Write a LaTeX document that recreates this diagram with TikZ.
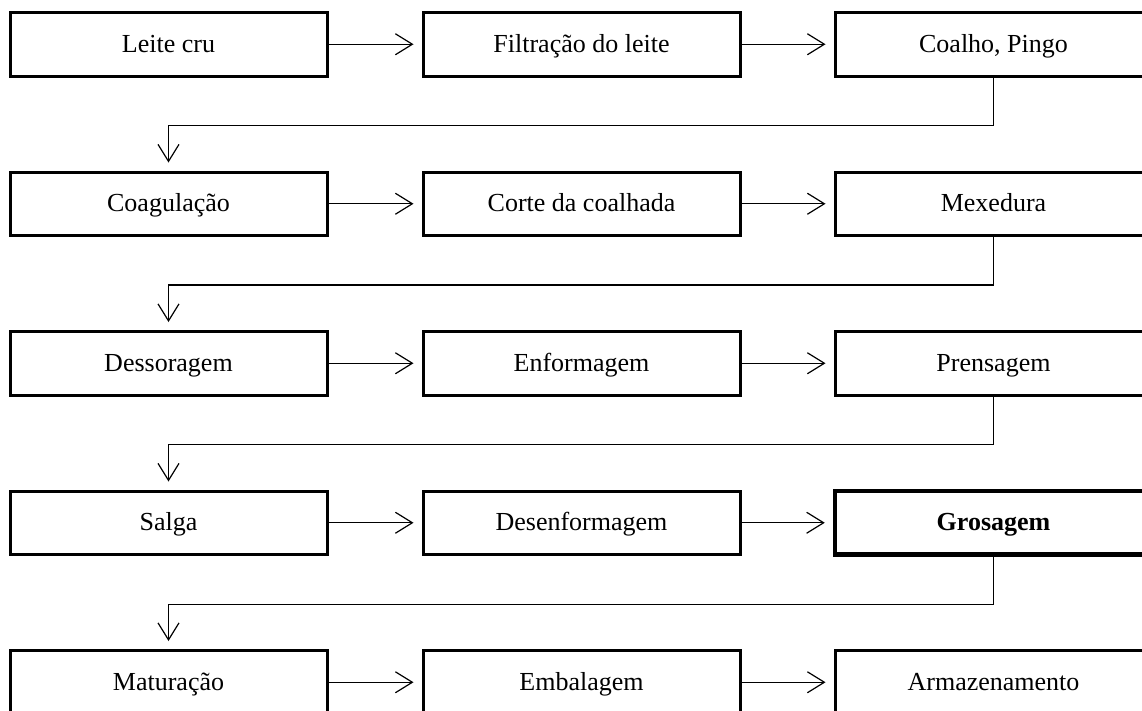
\documentclass[tikz,border=0pt]{standalone}
\usepackage{fontspec}
\setmainfont{Liberation Serif}
\usetikzlibrary{arrows.meta}
\begin{document}
\begin{tikzpicture}[x=1pt,y=-1pt,
  stepbox/.style={draw,line width=3pt,minimum width=317pt,minimum height=63.5pt,inner sep=0pt,
    text height=20pt,text depth=4pt,font=\fontsize{26}{30}\selectfont},
  boldbox/.style={stepbox,line width=4.5pt,font=\fontsize{26}{30}\selectfont\bfseries},
  flow/.style={line width=1.2pt,-{Straight Barb[length=17pt,width=21pt,line width=1.2pt]}}]
\useasboundingbox (0,0) rectangle (1142,710);
\clip (0,0) rectangle (1142,710);
% rows
\node[stepbox] (a1) at (168.5,44.25) {Leite cru};
\node[stepbox] (a2) at (581.5,44.25) {Filtração do leite};
\node[stepbox] (a3) at (993.5,44.25) {Coalho, Pingo};
\node[stepbox] (b1) at (168.5,203.75) {Coagulação};
\node[stepbox] (b2) at (581.5,203.75) {Corte da coalhada};
\node[stepbox] (b3) at (993.5,203.75) {Mexedura};
\node[stepbox] (c1) at (168.5,363.25) {Dessoragem};
\node[stepbox] (c2) at (581.5,363.25) {Enformagem};
\node[stepbox] (c3) at (993.5,363.25) {Prensagem};
\node[stepbox] (d1) at (168.5,522.75) {Salga};
\node[stepbox] (d2) at (581.5,522.75) {Desenformagem};
\node[boldbox] (d3) at (993.5,522.75) {Grosagem};
\node[stepbox] (e1) at (168.5,682.25) {Maturação};
\node[stepbox] (e2) at (581.5,682.25) {Embalagem};
\node[stepbox] (e3) at (993.5,682.25) {Armazenamento};
% horizontal connectors
\foreach \r in {a,b,c,d,e}{
  \draw[flow] (\r1.east) -- ([xshift=-8pt]\r2.west);
  \draw[flow] (\r2.east) -- ([xshift=-8pt]\r3.west);
}
% row-to-row connectors
\draw[flow] (a3.south) -- ++(0,48) -| ([yshift=8pt]b1.north);
\draw[flow] (b3.south) -- ++(0,48) -| ([yshift=8pt]c1.north);
\draw[flow] (c3.south) -- ++(0,48) -| ([yshift=8pt]d1.north);
\draw[flow] (d3.south) -- ++(0,48) -| ([yshift=8pt]e1.north);
\end{tikzpicture}
\end{document}
